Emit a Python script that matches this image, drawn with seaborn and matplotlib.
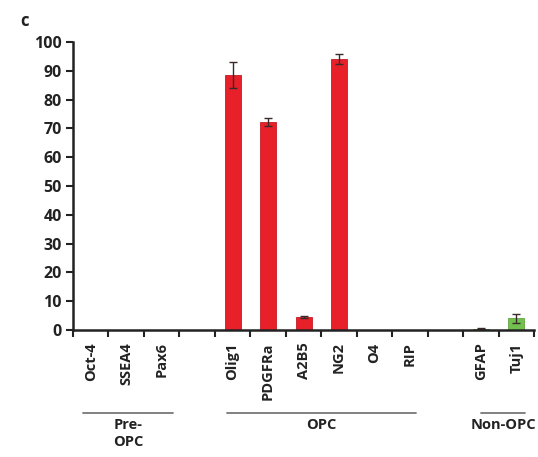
import matplotlib
matplotlib.use("Agg")
import matplotlib.pyplot as plt
import seaborn as sns
import pandas as pd
import numpy as np

sns.set_style("white")
plt.rcParams['font.family'] = ['Open Sans', 'DejaVu Sans']

slots = ["Oct-4", "SSEA4", "Pax6", "", "Olig1", "PDGFRa", "A2B5", "NG2", "O4", "RIP", " ", "GFAP", "Tuj1"]
markers = ["Oct-4", "SSEA4", "Pax6", "Olig1", "PDGFRa", "A2B5", "NG2", "O4", "RIP", "GFAP", "Tuj1"]
values = [0, 0, 0, 88.5, 72.2, 4.5, 94.2, 0, 0, 0.5, 4.0]
errors = [0, 0, 0, 4.5, 1.5, 0.5, 1.8, 0, 0, 0.3, 1.6]
groups = ["Pre-OPC", "Pre-OPC", "Pre-OPC", "OPC", "OPC", "OPC", "OPC", "OPC", "OPC", "Non-OPC", "Non-OPC"]
group_colors = {"Pre-OPC": "#E8202A", "OPC": "#E8202A", "Non-OPC": "#72C04E"}
group_spans = {"Pre-OPC": (-0.22, 2.32), "OPC": (3.84, 9.17), "Non-OPC": (11.0, 12.25)}
group_labels = {"Pre-OPC": "Pre-\nOPC", "OPC": "OPC", "Non-OPC": "Non-OPC"}

df = pd.DataFrame({"marker": markers, "value": values, "err": errors, "group": groups})

fig = plt.figure(figsize=(5.38, 4.57), dpi=100)
ax = fig.add_axes([0.1357, 0.2779, 0.857, 0.630])

sns.barplot(data=df, x="marker", y="value", hue="group", order=slots,
            palette=group_colors, width=0.45, dodge=False, legend=False, saturation=1,
            linewidth=0.6, ax=ax)
for patch in ax.patches:
    r, g, b, a = patch.get_facecolor()
    patch.set_edgecolor((r * 0.85, g * 0.85, b * 0.85, 1))

pos = [slots.index(m) for m in markers]
for p, v, e in zip(pos, values, errors):
    if e > 0:
        ax.errorbar(p, v, yerr=e, fmt="none", ecolor="#3a2a2a", elinewidth=1.0,
                    capsize=3, capthick=1.0)

ax.set_xlim(-0.5, len(slots) - 0.5)
ax.set_ylim(0, 100)
ax.set_yticks(np.arange(0, 101, 10))
ax.set_yticklabels([str(t) for t in range(0, 101, 10)], fontsize=11.5, fontweight="bold", color="#222222")
ax.tick_params(axis="y", direction="out", length=5, width=1.5, color="#222222", left=True, pad=3)

ax.set_xticks(range(len(slots)))
ax.set_xticklabels(slots, rotation=90, fontsize=10.5, fontweight="bold", color="#222222")
ax.tick_params(axis="x", which="major", length=0, pad=9)
ax.set_xticks(np.arange(-0.5, len(slots), 1.0), minor=True)
ax.tick_params(axis="x", which="minor", direction="out", length=5, width=1.5, color="#222222", bottom=True)

for s in ["top", "right"]:
    ax.spines[s].set_visible(False)
for s in ["left", "bottom"]:
    ax.spines[s].set_linewidth(1.8)
    ax.spines[s].set_color("#222222")
ax.set_xlabel("")
ax.set_ylabel("")

trans = ax.get_xaxis_transform()
for g, (x0, x1) in group_spans.items():
    ax.plot([x0, x1], [-0.288, -0.288], transform=trans, color="#777777", lw=1.3, clip_on=False)
    ax.text((x0 + x1) / 2, -0.305, group_labels[g], transform=trans, ha="center", va="top",
            fontsize=10.5, fontweight="bold", color="#222222", linespacing=1.3)

fig.text(0.037, 0.955, "c", fontsize=12, fontweight="bold", ha="left", va="center", color="#222222")

fig.savefig("out.png", dpi=100, facecolor="white")
